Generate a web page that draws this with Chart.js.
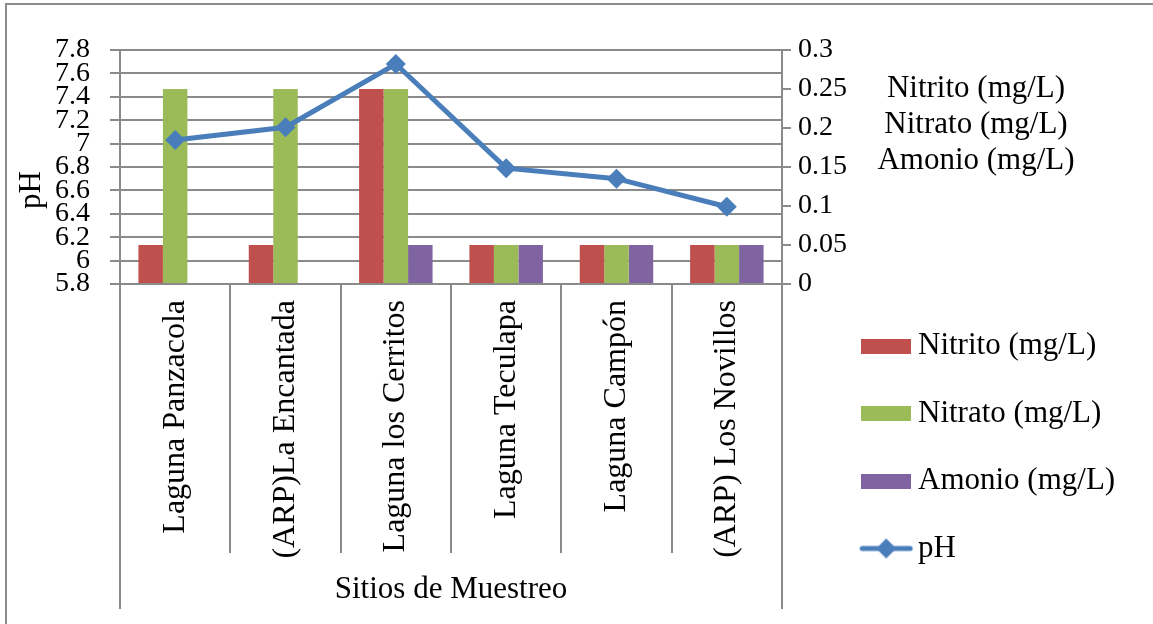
<!DOCTYPE html>
<html>
<head>
<meta charset="utf-8">
<script src="https://cdn.jsdelivr.net/npm/chart.js@4.4.1/dist/chart.umd.min.js"></script>
<style>
  html, body { margin: 0; padding: 0; background: #ffffff; }
  #wrap { width: 1153px; height: 624px; position: relative; }
  canvas { display: block; }
</style>
</head>
<body>
<div id="wrap"><canvas id="chart" width="1153" height="624"></canvas></div>
<script>
// Sampling sites and measured values
const sites = ['Laguna Panzacola', '(ARP)La Encantada', 'Laguna los Cerritos', 'Laguna Teculapa', 'Laguna Campón', '(ARP) Los Novillos'];
const nitrito = [0.05, 0.05, 0.25, 0.05, 0.05, 0.05];
const nitrato = [0.25, 0.25, 0.25, 0.05, 0.05, 0.05];
const amonio  = [null, null, 0.05, 0.05, 0.05, 0.05];
const ph      = [7.03, 7.14, 7.68, 6.79, 6.70, 6.46];

// Axis tick labels
const phTickLabels = ['5.8', '6', '6.2', '6.4', '6.6', '6.8', '7', '7.2', '7.4', '7.6', '7.8'];
const mgTickLabels = ['0', '0.05', '0.1', '0.15', '0.2', '0.25', '0.3'];

// Series names and titles
const seriesNames = ['Nitrito (mg/L)', 'Nitrato (mg/L)', 'Amonio (mg/L)', 'pH'];
const phTitle = 'pH';
const xTitle = 'Sitios de Muestreo';

const colors = ['#C0504D', '#9BBB59', '#8064A2', '#4A7EBB'];
const gridColor = '#8a8a8a';
const gridWidth = 2;
const FONT = "'Liberation Serif'";
const textSize = 31;
const catSize = 32;
const numSize = 28;
const sepLen = 269;        // category separators below the axis

Chart.defaults.font.family = FONT;
Chart.defaults.color = '#000000';

// Legend symbols
function swatch(color) {
  const c = document.createElement('canvas');
  c.width = 50; c.height = 15;
  const g = c.getContext('2d');
  g.fillStyle = color; g.fillRect(0, 0, 50, 15);
  return c;
}
function lineSymbol(color) {
  const c = document.createElement('canvas');
  c.width = 54; c.height = 22;
  const g = c.getContext('2d');
  g.strokeStyle = color; g.lineWidth = 5; g.lineCap = 'round';
  g.beginPath(); g.moveTo(3, 11); g.lineTo(51, 11); g.stroke();
  g.fillStyle = color;
  g.beginPath(); g.moveTo(27, 1); g.lineTo(37, 11); g.lineTo(27, 21); g.lineTo(17, 11); g.closePath(); g.fill();
  return c;
}
const legendSymbols = [swatch(colors[0]), swatch(colors[1]), swatch(colors[2]), lineSymbol(colors[3])];

// Legend geometry
const legendFont = textSize;
const legendGap = 18;
const legendRow = 49.5;     // with legendGap gives 67.5px between entries
const legendBox = 32.5;
const legendLeft = 852;
const measure = document.createElement('canvas').getContext('2d');
measure.font = legendFont + 'px ' + FONT;
const widest = Math.max(...seriesNames.map(s => measure.measureText(s).width));
const legendNatural = legendGap + legendBox + legendFont / 2 + widest + 10;
const padRight = Math.max(0, 1153 - legendLeft - legendNatural);
const padBottom = 23.5;
const plotTop = 50, plotBottom = 284, plotLeft = 120, plotRight = 782;

// Titles and frame drawn around the plot
const decor = {
  id: 'decor',
  afterDraw(chart) {
    const { ctx, chartArea, scales } = chart;
    const x = scales.x;
    ctx.save();
    ctx.strokeStyle = '#8c8c8c';
    ctx.lineWidth = 2;
    ctx.beginPath();
    ctx.moveTo(6, chart.height); ctx.lineTo(6, 4); ctx.lineTo(chart.width, 4);
    ctx.stroke();

    // outer edges of the category group continue down around the axis title
    ctx.strokeStyle = gridColor;
    ctx.lineWidth = gridWidth;
    const y0 = chartArea.bottom + sepLen - 1;
    ctx.beginPath();
    ctx.moveTo(x.left, y0); ctx.lineTo(x.left, y0 + 57);
    ctx.moveTo(x.right, y0); ctx.lineTo(x.right, y0 + 57);
    ctx.stroke();

    ctx.fillStyle = '#000000';
    ctx.font = textSize + 'px ' + FONT;
    ctx.textAlign = 'center';
    ctx.textBaseline = 'middle';
    // left axis title
    ctx.save();
    ctx.translate(32, (chartArea.top + chartArea.bottom) / 2 + 23);
    ctx.rotate(-Math.PI / 2);
    ctx.fillText(phTitle, 0, 0);
    ctx.restore();
    // right axis title
    const cx = chartArea.right + 194;
    seriesNames.slice(0, 3).forEach((s, i) => {
      ctx.fillText(s, cx, chartArea.top + 39 + i * 36);
    });
    ctx.restore();
  }
};

const barCommon = {
  yAxisID: 'y1',
  categoryPercentage: 0.666,
  barPercentage: 1.0,
  borderWidth: 0,
  order: 1
};

new Chart(document.getElementById('chart'), {
  type: 'bar',
  data: {
    labels: sites,
    datasets: [
      Object.assign({ label: seriesNames[0], data: nitrito, backgroundColor: colors[0] }, barCommon),
      Object.assign({ label: seriesNames[1], data: nitrato, backgroundColor: colors[1] }, barCommon),
      Object.assign({ label: seriesNames[2], data: amonio, backgroundColor: colors[2] }, barCommon),
      {
        type: 'line',
        label: seriesNames[3],
        data: ph,
        yAxisID: 'y',
        borderColor: colors[3],
        backgroundColor: colors[3],
        borderWidth: 5,
        pointStyle: 'rectRot',
        pointRadius: 10,
        pointHoverRadius: 10,
        pointBorderWidth: 0,
        tension: 0,
        order: 0
      }
    ]
  },
  options: {
    responsive: false,
    animation: false,
    events: [],
    layout: { padding: { left: 0, top: plotTop, right: padRight, bottom: padBottom } },
    plugins: {
      tooltip: { enabled: false },
      legend: {
        position: 'right',
        align: 'end',
        maxWidth: 1153 - legendLeft,
        labels: {
          usePointStyle: true,
          pointStyleWidth: legendBox,
          padding: legendGap,
          font: { size: legendFont, family: FONT, lineHeight: legendRow + 'px' },
          color: '#000000',
          generateLabels(chart) {
            return chart.data.datasets.map((ds, i) => ({
              text: [ds.label],
              pointStyle: legendSymbols[i],
              fillStyle: colors[i],
              strokeStyle: colors[i],
              lineWidth: 0,
              hidden: false,
              datasetIndex: i
            }));
          }
        }
      }
    },
    scales: {
      x: {
        type: 'category',
        offset: true,
        grid: {
          display: true,
          offset: true,
          drawOnChartArea: false,
          drawTicks: true,
          tickLength: sepLen,
          color: gridColor,
          lineWidth: gridWidth
        },
        border: { display: true, color: gridColor, width: gridWidth },
        ticks: {
          autoSkip: false,
          minRotation: 90,
          maxRotation: 90,
          padding: -253,
          font: { size: catSize, family: FONT },
          color: '#000000'
        },
        title: {
          display: true,
          text: xTitle,
          font: { size: textSize, family: FONT, lineHeight: '21px' },
          padding: 0,
          color: '#000000'
        },
        afterFit(s) { s.height = 624 - padBottom - plotBottom; }
      },
      y: {
        position: 'left',
        min: 5.8,
        max: 7.8,
        grid: {
          display: true,
          drawOnChartArea: true,
          drawTicks: true,
          tickLength: 10,
          color: gridColor,
          lineWidth: gridWidth
        },
        border: { display: true, color: gridColor, width: gridWidth },
        afterBuildTicks(s) { s.ticks = phTickLabels.map(t => ({ value: parseFloat(t) })); },
        ticks: {
          autoSkip: false,
          padding: 20,
          font: { size: numSize, family: FONT },
          color: '#000000',
          callback: (v, i) => phTickLabels[i]
        },
        afterFit(s) { s.width = plotLeft; }
      },
      y1: {
        position: 'right',
        min: 0,
        max: 0.3,
        grid: {
          display: true,
          drawOnChartArea: false,
          drawTicks: true,
          tickLength: 9,
          color: gridColor,
          lineWidth: gridWidth
        },
        border: { display: true, color: gridColor, width: gridWidth },
        afterBuildTicks(s) { s.ticks = mgTickLabels.map(t => ({ value: parseFloat(t) })); },
        ticks: {
          autoSkip: false,
          padding: 7,
          font: { size: numSize, family: FONT },
          color: '#000000',
          callback: (v, i) => mgTickLabels[i]
        },
        afterFit(s) {
          const lw = s.chart.legend ? s.chart.legend.width : 0;
          s.width = Math.max(0, s.chart.width - padRight - lw - plotRight);
        }
      }
    }
  },
  plugins: [decor]
});
</script>
</body>
</html>
